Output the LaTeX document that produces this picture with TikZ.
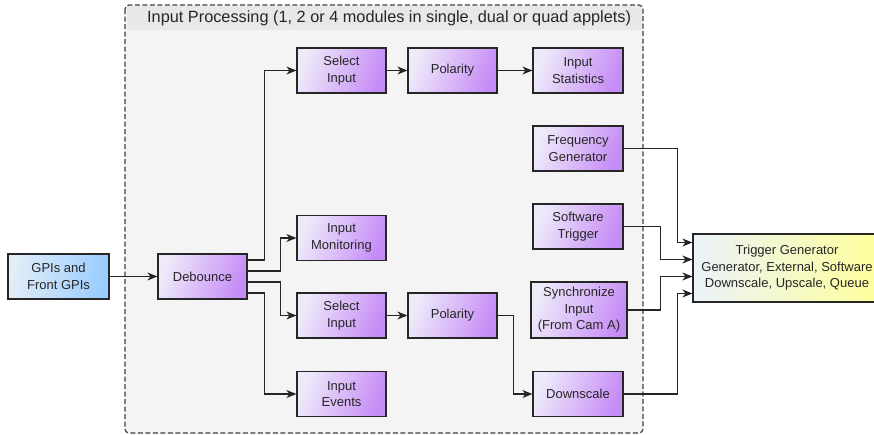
\documentclass[tikz,border=0pt]{standalone}
\usepackage{fontspec}
\setmainfont{Liberation Sans}
\usepackage{tikz}
\usetikzlibrary{calc}
\usetikzlibrary{positioning, arrows.meta, shapes}
\usepackage{xcolor}

\definecolor{purpleL}{HTML}{EEEAFA}
\definecolor{purpleD}{HTML}{C68CF6}
\definecolor{blueL}{HTML}{E2EDF8}
\definecolor{blueD}{HTML}{99CCFF}
\definecolor{yellowD}{HTML}{FFFF99}
\definecolor{frameBg}{HTML}{F4F4F4}
\definecolor{titleBg}{HTML}{E8E8E8}
\definecolor{lineC}{HTML}{262626}

\tikzset{
  block/.style={draw=lineC, line width=1.2pt, rectangle, align=center,
    minimum width=89pt, minimum height=45pt, inner sep=1pt,
    left color=purpleL, right color=purpleD, shading angle=70,
    text=black!85, font=\fontsize{13}{16.5}\selectfont},
  gpio/.style={block, left color=blueL, right color=blueD, shading angle=80},
  trigbox/.style={block, left color=blueL!70!white, right color=yellowD, shading angle=90},
  conn/.style={draw=lineC, line width=1.1pt, -{Stealth[length=10pt, width=8pt, inset=3pt]}},
}

\begin{document}
\begin{tikzpicture}[x=1pt, y=-1pt]
    \useasboundingbox (0,0) rectangle (874,434);

    % Input Processing frame
    \fill[frameBg, rounded corners=4pt] (125,5) rectangle (643,433);
    \fill[titleBg] (126.5,6) rectangle (641.5,30);
    \draw[black!75, line width=1.2pt, dash pattern=on 5pt off 2.5pt, rounded corners=4pt] (125,5) rectangle (643,433);
    \node[anchor=west, inner sep=0pt, text=black!85, font=\fontsize{16.3}{19}\selectfont] (title) at (147,18)
        {Input Processing (1, 2 or 4 modules in single, dual or quad applets)};

    % Inputs
    \node[gpio, minimum width=101pt] (gpi) at (58.5,276.5) {GPIs and\\Front GPIs};
    \node[block] (deb) at (202.5,276.5) {Debounce};

    % Modules
    \node[block] (selA) at (341.5,70.5) {Select\\Input};
    \node[block] (polA) at (452.5,70.5) {Polarity};
    \node[block, minimum width=90pt] (stat) at (578,70.5) {Input\\Statistics};
    \node[block] (mon) at (341.5,238) {Input\\Monitoring};
    \node[block] (selB) at (341.5,315.5) {Select\\Input};
    \node[block] (polB) at (452.5,315.5) {Polarity};
    \node[block] (evt) at (341.5,394) {Input\\Events};

    \node[block, minimum width=90pt] (freq) at (578,148.5) {Frequency\\Generator};
    \node[block, minimum width=90pt] (soft) at (578,226.5) {Software\\Trigger};
    \node[block, minimum width=96pt, minimum height=56pt] (sync) at (579,310) {Synchronize\\Input\\(From Cam A)};
    \node[block, minimum width=90pt] (down) at (578,394) {Downscale};

    % Trigger generator
    \node[trigbox, minimum width=188pt, minimum height=68pt] (trig) at (787,268)
        {Trigger Generator\\Generator, External, Software\\Downscale, Upscale, Queue};
    \coordinate (in1) at ([yshift=25.5pt]trig.west);
    \coordinate (in2) at ([yshift=8.5pt]trig.west);
    \coordinate (in3) at ([yshift=-8.5pt]trig.west);
    \coordinate (in4) at ([yshift=-25.5pt]trig.west);

    % Connections
    \draw[conn] (gpi) -- (deb);
    \draw[conn] ([yshift=16.5pt]deb.east) -- ++(17,0) |- (selA);
    \draw[conn] ([yshift=5.5pt]deb.east) -- ++(33,0) |- (mon);
    \draw[conn] ([yshift=-5.5pt]deb.east) -- ++(33,0) |- (selB);
    \draw[conn] ([yshift=-16.5pt]deb.east) -- ++(17,0) |- (evt);
    \draw[conn] (selA) -- (polA);
    \draw[conn] (polA) -- (stat);
    \draw[conn] (selB) -- (polB);
    \draw[conn] (polB.east) -- ++(16,0) |- (down);

    \draw[conn] (freq.east) -- ++(54,0) |- (in1);
    \draw[conn] (soft.east) -- ++(37,0) |- (in2);
    \draw[conn] (sync.east) -- ++(33,0) |- (in3);
    \draw[conn] (down.east) -- ++(54,0) |- (in4);
\end{tikzpicture}
\end{document}
